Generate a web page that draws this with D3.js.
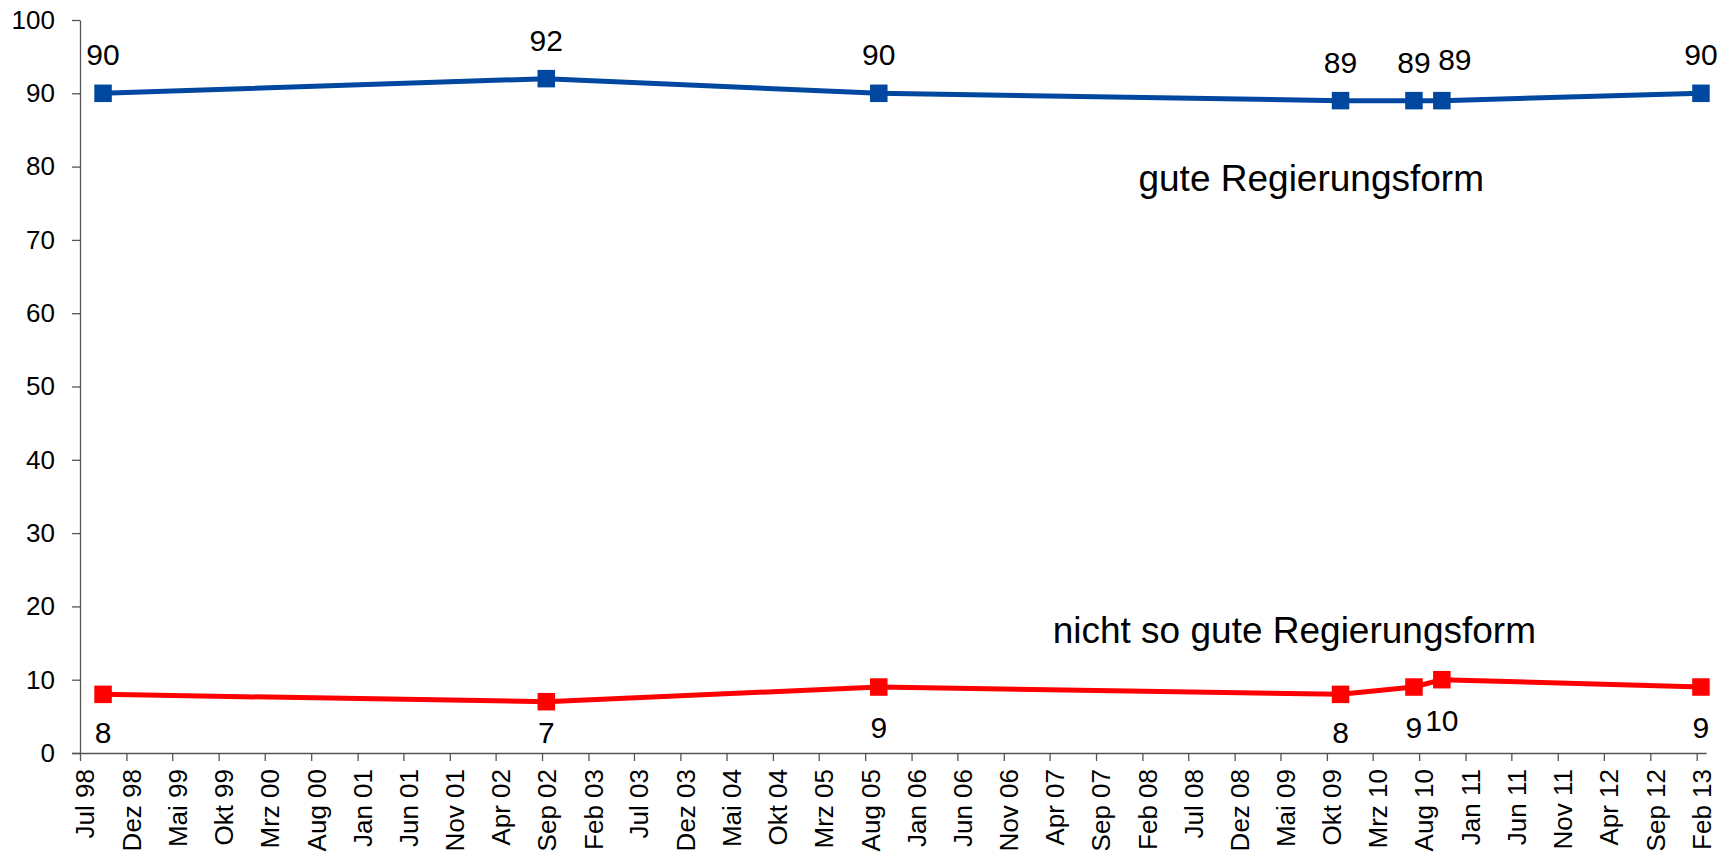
<!DOCTYPE html>
<html>
<head>
<meta charset="utf-8">
<script src="https://cdn.jsdelivr.net/npm/d3@7"></script>
<style>
  html, body { margin: 0; padding: 0; background: #fff; }
  svg { display: block; font-family: "Liberation Sans", Arial, sans-serif; }
</style>
</head>
<body>
<svg id="chart" width="1735" height="858"></svg>
<script>
// ---- data ----
const surveyDates = ["1998-09-15", "2002-09-15", "2005-09-15", "2009-11-15", "2010-07-15", "2010-10-15", "2013-02-15"];
const guteValues = [90, 92, 90, 89, 89, 89, 90];
const nichtGuteValues = [8, 7, 9, 8, 9, 10, 9];
const seriesNames = ["gute Regierungsform", "nicht so gute Regierungsform"];
const yTicks = [0, 10, 20, 30, 40, 50, 60, 70, 80, 90, 100];
const xTickLabels = ["Jul 98", "Dez 98", "Mai 99", "Okt 99", "Mrz 00", "Aug 00", "Jan 01", "Jun 01", "Nov 01", "Apr 02",
  "Sep 02", "Feb 03", "Jul 03", "Dez 03", "Mai 04", "Okt 04", "Mrz 05", "Aug 05", "Jan 06", "Jun 06",
  "Nov 06", "Apr 07", "Sep 07", "Feb 08", "Jul 08", "Dez 08", "Mai 09", "Okt 09", "Mrz 10", "Aug 10",
  "Jan 11", "Jun 11", "Nov 11", "Apr 12", "Sep 12", "Feb 13"];

// ---- layout / style (not data) ----
const plot = { left: 80, right: 1696.7, top: 20, bottom: 753 };
const blue = "#0047A0", red = "#FF0000", axisColor = "#555555";
// label nudges to avoid overlaps (pixels)
const blueLabelNudge = [[0, 0], [0, 0], [0, 0], [0, 0], [0, 0], [13, -3], [0, 0]];
const redLabelNudge = [[0, 0], [0, 0], [0, 0], [0, 0], [0, 0], [0, 0], [0, 0]];

const monthIdx = { Jan: 0, Feb: 1, Mrz: 2, Apr: 3, Mai: 4, Jun: 5, Jul: 6, Aug: 7, Sep: 8, Okt: 9, Nov: 10, Dez: 11 };
function parseTickLabel(s) {
  const [m, yy] = s.split(" ");
  const y = +yy > 50 ? 1900 + +yy : 2000 + +yy;
  return new Date(y, monthIdx[m], 1);
}
const tickDates = xTickLabels.map(parseTickLabel);
const parse = d3.timeParse("%Y-%m-%d");
const dates = surveyDates.map(parse);

const x = d3.scaleTime()
  .domain([tickDates[0], tickDates[tickDates.length - 1]])
  .range([plot.left, plot.right]);
const y = d3.scaleLinear().domain([0, 100]).range([plot.bottom, plot.top]);

const svg = d3.select("#chart");

// ---- y axis ----
const yAxis = svg.append("g")
  .attr("transform", `translate(${plot.left},0)`)
  .call(d3.axisLeft(y).tickValues(yTicks).tickSize(8).tickPadding(17).tickSizeOuter(0));
yAxis.select(".domain").attr("stroke", axisColor).attr("stroke-width", 1.3);
yAxis.selectAll(".tick line").attr("stroke", axisColor).attr("stroke-width", 1.3);
yAxis.selectAll(".tick text")
  .attr("font-size", 26).attr("fill", "#000")
  .attr("font-family", "Liberation Sans, Arial, sans-serif");

// ---- x axis ----
const xAxis = svg.append("g")
  .attr("transform", `translate(0,${plot.bottom})`)
  .call(d3.axisBottom(x).tickValues(tickDates).tickSize(8).tickSizeOuter(0).tickFormat((d, i) => xTickLabels[i]));
xAxis.select(".domain").attr("d", `M${plot.left - 8},0.5H${plot.right + 10}`)
  .attr("stroke", axisColor).attr("stroke-width", 1.3);
xAxis.selectAll(".tick line").attr("stroke", axisColor).attr("stroke-width", 1.3);
xAxis.selectAll(".tick text")
  .attr("font-size", 26).attr("fill", "#000")
  .attr("font-family", "Liberation Sans, Arial, sans-serif")
  .attr("text-anchor", "end")
  .attr("transform", "translate(4.5,16) rotate(-90)")
  .attr("x", 0).attr("y", 0).attr("dy", "0.36em");

// ---- series ----
function drawSeries(values, color, nudge, above) {
  const pts = values.map((v, i) => ({ d: dates[i], v, i }));
  const line = d3.line().x(p => x(p.d)).y(p => y(p.v));
  svg.append("path").datum(pts)
    .attr("d", line).attr("fill", "none")
    .attr("stroke", color).attr("stroke-width", 5).attr("stroke-linejoin", "round");
  const ms = 17.5;
  svg.append("g").selectAll("rect").data(pts).join("rect")
    .attr("x", p => x(p.d) - ms / 2).attr("y", p => y(p.v) - ms / 2)
    .attr("width", ms).attr("height", ms).attr("fill", color);
  svg.append("g").selectAll("text").data(pts).join("text")
    .attr("x", p => x(p.d) + nudge[p.i][0])
    .attr("y", p => {
      const base = above ? y(p.v) - 28 : Math.min(y(p.v) + 51, 743);
      return base + nudge[p.i][1];
    })
    .attr("text-anchor", "middle").attr("font-size", 30).attr("fill", "#000")
    .text(p => p.v);
}
drawSeries(guteValues, blue, blueLabelNudge, true);
drawSeries(nichtGuteValues, red, redLabelNudge, false);

// ---- series name labels ----
svg.append("text").attr("x", 1484).attr("y", 191)
  .attr("text-anchor", "end").attr("font-size", 37).attr("fill", "#000")
  .text(seriesNames[0]);
svg.append("text").attr("x", 1536).attr("y", 642.5)
  .attr("text-anchor", "end").attr("font-size", 37).attr("fill", "#000")
  .text(seriesNames[1]);
</script>
</body>
</html>
